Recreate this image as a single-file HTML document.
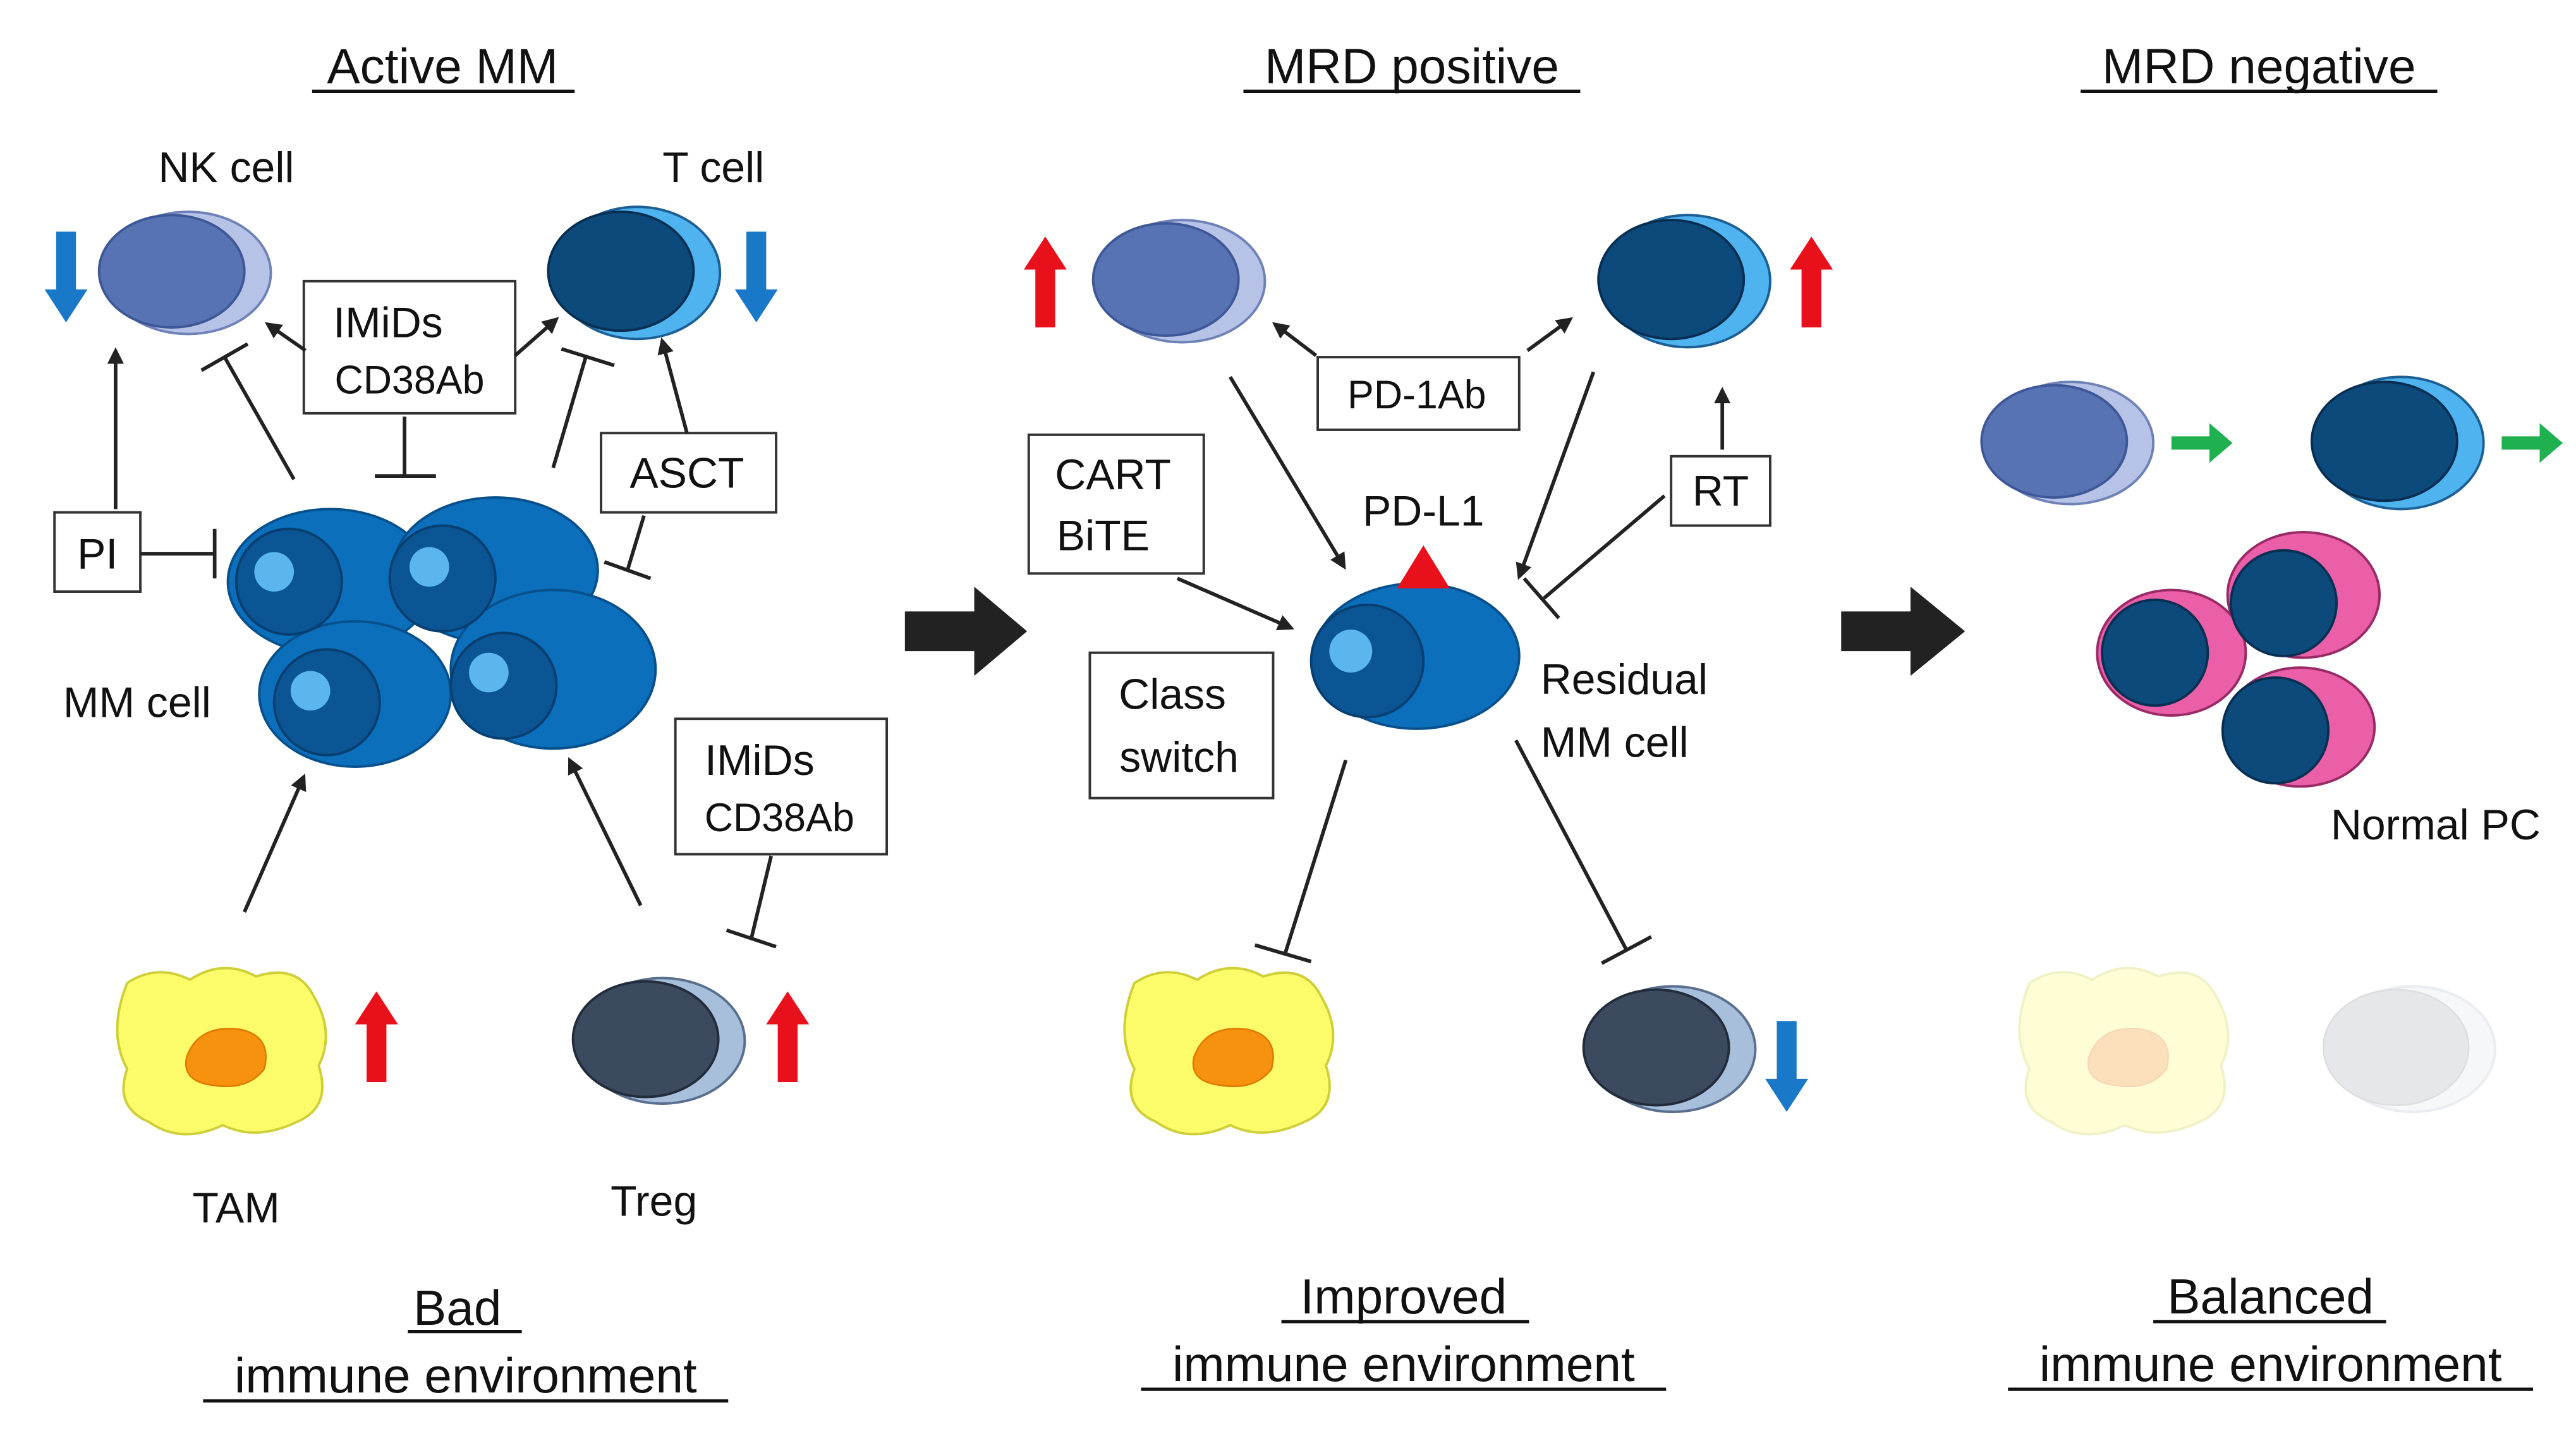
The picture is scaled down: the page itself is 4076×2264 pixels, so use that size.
<!DOCTYPE html>
<html><head><meta charset="utf-8"><style>
html,body{margin:0;padding:0;background:#fff;}
svg{display:block;}
text{font-family:"Liberation Sans",Arial,sans-serif;fill:#111;}
</style></head><body>
<svg width="4076" height="2264" viewBox="0 0 1560 866" xmlns="http://www.w3.org/2000/svg">
<defs>
<marker id="ah" markerWidth="10" markerHeight="10" refX="8" refY="5" orient="auto" markerUnits="userSpaceOnUse"><path d="M0,0 L10,5 L0,10 z" fill="#222"/></marker>
<g id="nk"><ellipse cx="6" cy="0" rx="50" ry="37" fill="#b7c3e6" stroke="#6f82b8" stroke-width="1.5"/><ellipse cx="-4" cy="-1" rx="44" ry="34" fill="#5873b4" stroke="#3e5796" stroke-width="1.5"/></g>
<g id="tc"><ellipse cx="6" cy="0" rx="50" ry="40" fill="#4fb3f0" stroke="#1c5f95" stroke-width="1.5"/><ellipse cx="-4" cy="-1" rx="44" ry="36" fill="#0d4a7c" stroke="#082f52" stroke-width="1.5"/></g>
<g id="treg"><ellipse cx="6" cy="0" rx="50" ry="38" fill="#a8bfdc" stroke="#5a6f8e" stroke-width="1.5"/><ellipse cx="-4" cy="-1" rx="44" ry="35" fill="#3c4a60" stroke="#232c3b" stroke-width="1.5"/></g>
<g id="tam"><path d="M-58,-40 Q-40,-52 -20,-42 Q0,-55 20,-44 Q45,-52 55,-32 Q68,-10 58,10 Q66,35 45,44 Q20,56 0,46 Q-25,58 -45,44 Q-66,35 -58,12 Q-70,-10 -58,-40 z" fill="#fcfb6a" stroke="#cfcf3a" stroke-width="1.5"/><path d="M-22,5 Q-15,-15 10,-12 Q30,-8 25,12 Q15,25 -5,22 Q-25,20 -22,5 z" fill="#f7920e" stroke="#e07a00"/></g>
<g id="up"><path d="M-6,0 L-6,-35 L-13,-35 L0,-55 L13,-35 L6,-35 L6,0 z" fill="#e8101a"/></g>
<g id="down"><path d="M-6,0 L-6,35 L-13,35 L0,55 L13,35 L6,35 L6,0 z" fill="#1a78c8"/></g>
</defs>
<g text-anchor="middle" font-size="30">
<text x="268" y="50">Active MM</text><line x1="189" y1="55" x2="348" y2="55" stroke="#111" stroke-width="2"/>
<text x="855" y="50">MRD positive</text><line x1="753" y1="55" x2="957" y2="55" stroke="#111" stroke-width="2"/>
<text x="1368" y="50">MRD negative</text><line x1="1260" y1="55" x2="1476" y2="55" stroke="#111" stroke-width="2"/>
<text x="277" y="802">Bad </text><line x1="247" y1="806" x2="316" y2="806" stroke="#111" stroke-width="2"/>
<text x="282" y="843">immune environment</text><line x1="123" y1="848" x2="441" y2="848" stroke="#111" stroke-width="2"/>
<text x="850" y="795">Improved </text><line x1="776" y1="800" x2="926" y2="800" stroke="#111" stroke-width="2"/>
<text x="850" y="836">immune environment</text><line x1="691" y1="841" x2="1009" y2="841" stroke="#111" stroke-width="2"/>
<text x="1375" y="795">Balanced</text><line x1="1304" y1="800" x2="1445" y2="800" stroke="#111" stroke-width="2"/>
<text x="1375" y="836">immune environment</text><line x1="1216" y1="841" x2="1534" y2="841" stroke="#111" stroke-width="2"/>
</g>
<g font-size="26" text-anchor="middle">
<text x="137" y="110">NK cell</text><text x="432" y="110">T cell</text>
<text x="83" y="434">MM cell</text><text x="143" y="740">TAM</text><text x="396" y="736">Treg</text>
<text x="862" y="318">PD-L1</text><text x="1475" y="508">Normal PC</text>
</g>
<text x="933" y="420" font-size="26">Residual</text><text x="933" y="458" font-size="26">MM cell</text>
<!-- left cells -->
<use href="#nk" x="108" y="165"/><use href="#tc" x="380" y="165"/>
<use href="#down" x="40" y="140"/><use href="#down" x="458" y="140"/>
<use href="#tam" x="135" y="635"/><use href="#treg" x="395" y="630"/>
<use href="#up" x="228" y="655"/><use href="#up" x="477" y="655"/>
<!-- MM cluster -->
<g fill="#0b6fbc" stroke="#07508c" stroke-width="1.5">
<ellipse cx="200" cy="352" rx="62" ry="44"/><ellipse cx="300" cy="345" rx="62" ry="44"/>
<ellipse cx="215" cy="420" rx="58" ry="44"/><ellipse cx="335" cy="405" rx="62" ry="48"/>
</g>
<g fill="#0b5595" stroke="#073f70" stroke-width="1.5">
<circle cx="175" cy="352" r="32"/><circle cx="268" cy="350" r="32"/><circle cx="198" cy="425" r="32"/><circle cx="305" cy="415" r="32"/>
</g>
<g fill="#5ab6ec"><circle cx="166" cy="346" r="12"/><circle cx="260" cy="343" r="12"/><circle cx="188" cy="418" r="12"/><circle cx="296" cy="407" r="12"/></g>
<!-- boxes -->
<g fill="#fff" stroke="#333" stroke-width="1.5">
<rect x="184" y="170" width="128" height="80"/><rect x="33" y="310" width="52" height="48"/>
<rect x="364" y="262" width="106" height="48"/><rect x="409" y="435" width="128" height="82"/>
<rect x="798" y="216" width="122" height="44"/><rect x="623" y="263" width="106" height="84"/>
<rect x="1012" y="276" width="60" height="42"/><rect x="660" y="395" width="111" height="88"/>
</g>
<g font-size="26" text-anchor="middle">
<text x="235" y="204">IMiDs</text><text x="248" y="238" font-size="24">CD38Ab</text>
<text x="59" y="344">PI</text><text x="416" y="295">ASCT</text>
<text x="460" y="469">IMiDs</text><text x="472" y="503" font-size="24">CD38Ab</text>
<text x="858" y="247" font-size="24">PD-1Ab</text><text x="674" y="296">CART</text><text x="668" y="333">BiTE</text>
<text x="1042" y="306">RT</text><text x="710" y="429">Class</text><text x="714" y="467">switch</text>
</g>
<!-- left connectors -->
<g stroke="#222" stroke-width="2.2" fill="none">
<line x1="70" y1="308" x2="70" y2="212" marker-end="url(#ah)"/>
<line x1="85" y1="335" x2="130" y2="335"/><line x1="130" y1="320" x2="130" y2="350"/>
<line x1="178" y1="290" x2="136" y2="216"/><line x1="122" y1="224" x2="150" y2="208"/>
<line x1="185" y1="212" x2="162" y2="196" marker-end="url(#ah)"/>
<line x1="245" y1="252" x2="245" y2="288"/><line x1="227" y1="288" x2="264" y2="288"/>
<line x1="312" y1="215" x2="337" y2="193" marker-end="url(#ah)"/>
<line x1="335" y1="283" x2="355" y2="215"/><line x1="340" y1="211" x2="372" y2="221"/>
<line x1="416" y1="262" x2="401" y2="206" marker-end="url(#ah)"/>
<line x1="390" y1="312" x2="380" y2="345"/><line x1="366" y1="340" x2="394" y2="350"/>
<line x1="148" y1="552" x2="184" y2="470" marker-end="url(#ah)"/>
<line x1="388" y1="548" x2="345" y2="460" marker-end="url(#ah)"/>
<line x1="467" y1="518" x2="455" y2="568"/><line x1="440" y1="563" x2="470" y2="573"/>
</g>
<!-- big arrows -->
<path d="M548,370 L590,370 L590,355 L622,382 L590,409 L590,394 L548,394 z" fill="#222"/>
<path d="M1115,370 L1157,370 L1157,355 L1190,382 L1157,409 L1157,394 L1115,394 z" fill="#222"/>
<!-- middle -->
<use href="#nk" x="710" y="170"/><use href="#tc" x="1016" y="170"/>
<use href="#up" x="633" y="198"/><use href="#up" x="1097" y="198"/>
<use href="#tam" x="745" y="635"/><use href="#treg" x="1007" y="635"/>
<use href="#down" x="1082" y="618"/>
<ellipse cx="858" cy="397" rx="62" ry="44" fill="#0b6fbc" stroke="#07508c" stroke-width="1.5"/>
<circle cx="828" cy="400" r="34" fill="#0b5595" stroke="#073f70" stroke-width="1.5"/>
<circle cx="818" cy="394" r="13" fill="#5ab6ec"/>
<path d="M862,330 L878,356 L846,356 z" fill="#e8101a"/>
<g stroke="#222" stroke-width="2.2" fill="none">
<line x1="745" y1="228" x2="814" y2="343" marker-end="url(#ah)"/>
<line x1="797" y1="215" x2="772" y2="196" marker-end="url(#ah)"/>
<line x1="925" y1="212" x2="951" y2="193" marker-end="url(#ah)"/>
<line x1="965" y1="225" x2="920" y2="349" marker-end="url(#ah)"/>
<line x1="1043" y1="272" x2="1043" y2="236" marker-end="url(#ah)"/>
<line x1="1008" y1="300" x2="935" y2="362"/><line x1="923" y1="350" x2="944" y2="374"/>
<line x1="713" y1="350" x2="782" y2="380" marker-end="url(#ah)"/>
<line x1="815" y1="460" x2="778" y2="578"/><line x1="760" y1="572" x2="794" y2="582"/>
<line x1="918" y1="448" x2="985" y2="575"/><line x1="970" y1="583" x2="1000" y2="567"/>
</g>
<!-- right -->
<use href="#nk" x="1248" y="268"/><use href="#tc" x="1448" y="268"/>
<path d="M1315,264 L1338,264 L1338,256 L1352,268 L1338,280 L1338,272 L1315,272 z" fill="#1fb04f"/>
<path d="M1515,264 L1538,264 L1538,256 L1552,268 L1538,280 L1538,272 L1515,272 z" fill="#1fb04f"/>
<g fill="#ea5fa8" stroke="#9a2a66" stroke-width="1.5">
<ellipse cx="1315" cy="395" rx="45" ry="38"/><ellipse cx="1395" cy="360" rx="46" ry="38"/><ellipse cx="1393" cy="440" rx="45" ry="36"/>
</g>
<g fill="#0d4a7c" stroke="#082f52" stroke-width="1.5">
<circle cx="1305" cy="395" r="32"/><circle cx="1383" cy="365" r="32"/><circle cx="1378" cy="442" r="32"/>
</g>
<g opacity="0.28"><use href="#tam" x="1287" y="635"/></g>
<g opacity="0.3"><ellipse cx="1461" cy="635" rx="50" ry="38" fill="#dfe5ee" stroke="#b8c3d2" stroke-width="1.5"/><ellipse cx="1451" cy="634" rx="44" ry="35" fill="#aeb3bb" stroke="#8e939b"/></g>
</svg>
</body></html>
